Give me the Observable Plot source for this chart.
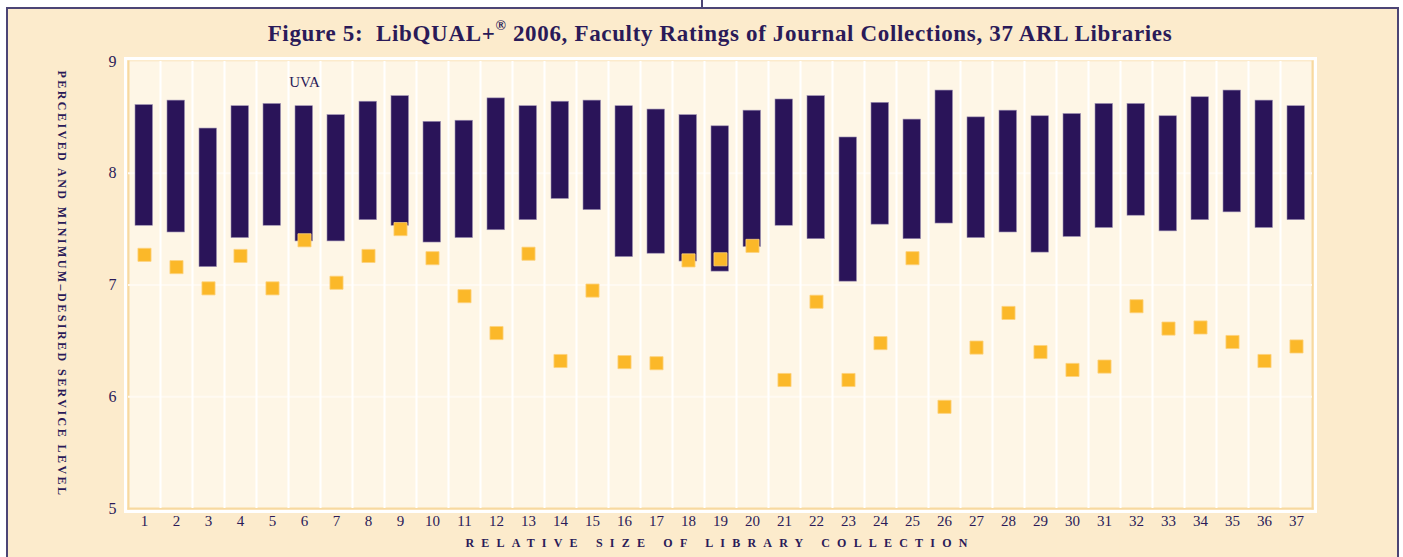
<!DOCTYPE html>
<html>
<head>
<meta charset="utf-8">
<script src="https://cdn.jsdelivr.net/npm/d3@7"></script>
<script src="https://cdn.jsdelivr.net/npm/@observablehq/plot@0.6"></script>
<style>
  html, body { margin: 0; padding: 0; background: #ffffff; width: 1403px; height: 557px; overflow: hidden; }
  #frame { position: absolute; left: 6px; top: 7px; width: 1389px; height: 560px; border: 2px solid #4c4575; background: #fcebcc; }
  #notch { position: absolute; left: 701px; top: 0px; width: 2px; height: 8px; background: #4c4575; }
  #title { position: absolute; left: 0; top: 20px; width: 1440px; text-align: center; font-family: "Liberation Serif", serif; font-weight: bold; font-size: 23px; letter-spacing: 0.66px; color: #2a1a58; white-space: nowrap; }
  #title sup { font-size: 14px; position: relative; top: -2px; }
  #chart { position: absolute; left: 0; top: 0; }
  #ylabel { position: absolute; left: 61px; top: 284px; transform: translate(-50%, -50%) rotate(90deg); font-family: "Liberation Serif", serif; font-weight: bold; font-size: 12px; letter-spacing: 2.45px; color: #2a1a58; white-space: nowrap; }
  #xlabel { position: absolute; left: 720px; top: 543px; transform: translate(-50%, -50%); font-family: "Liberation Serif", serif; font-weight: bold; font-size: 12px; letter-spacing: 7.2px; word-spacing: 1px; color: #2a1a58; white-space: nowrap; }
</style>
</head>
<body>
<div id="frame"></div>
<div id="notch"></div>
<div id="chart"></div>
<div id="title">Figure 5:&nbsp; LibQUAL+<sup>®</sup> 2006, Faculty Ratings of Journal Collections, 37 ARL Libraries</div>
<div id="ylabel">PERCEIVED AND MINIMUM–DESIRED SERVICE LEVEL</div>
<div id="xlabel">RELATIVE SIZE OF LIBRARY COLLECTION</div>
<script>
const libraries = d3.range(1, 38);
const minimum = [7.53, 7.47, 7.16, 7.42, 7.53, 7.39, 7.39, 7.58, 7.53, 7.38, 7.42, 7.49, 7.58, 7.77, 7.67, 7.25, 7.28, 7.21, 7.12, 7.34, 7.53, 7.41, 7.03, 7.54, 7.41, 7.55, 7.42, 7.47, 7.29, 7.43, 7.51, 7.62, 7.48, 7.58, 7.65, 7.51, 7.58];
const desired = [8.61, 8.65, 8.40, 8.60, 8.62, 8.60, 8.52, 8.64, 8.69, 8.46, 8.47, 8.67, 8.60, 8.64, 8.65, 8.60, 8.57, 8.52, 8.42, 8.56, 8.66, 8.69, 8.32, 8.63, 8.48, 8.74, 8.50, 8.56, 8.51, 8.53, 8.62, 8.62, 8.51, 8.68, 8.74, 8.65, 8.60];
const perceived = [7.27, 7.16, 6.97, 7.26, 6.97, 7.40, 7.02, 7.26, 7.50, 7.24, 6.90, 6.57, 7.28, 6.32, 6.95, 6.31, 6.30, 7.22, 7.23, 7.35, 6.15, 6.85, 6.15, 6.48, 7.24, 5.91, 6.44, 6.75, 6.40, 6.24, 6.27, 6.81, 6.61, 6.62, 6.49, 6.32, 6.45];
const yTicks = [5, 6, 7, 8, 9];
const highlight = [{lib: 6, y: 8.815, label: "UVA"}];

const data = libraries.map((lib, i) => ({lib, min: minimum[i], des: desired[i], per: perceived[i]}));
const ink = "#2a1a58";

const chart = Plot.plot({
  width: 1403,
  height: 557,
  marginLeft: 128,
  marginRight: 91,
  marginTop: 61,
  marginBottom: 49,
  style: {background: "transparent", fontFamily: "Liberation Serif, serif", color: ink},
  x: {type: "band", domain: libraries, padding: 0, label: null},
  y: {domain: [5, 9], label: null},
  marks: [
    Plot.frame({stroke: "#ffffff", strokeWidth: 3, inset: -3}),
    Plot.frame({fill: "#fef6e6"}),
    Plot.frame({anchor: "left", stroke: "#f7d9a0", strokeWidth: 2}),
    Plot.frame({anchor: "right", stroke: "#f7d9a0", strokeWidth: 2}),
    Plot.frame({anchor: "bottom", stroke: "#f7d9a0", strokeWidth: 2}),
    Plot.ruleY([6, 7, 8], {stroke: "#fffaf2", strokeWidth: 2}),
    Plot.ruleX(data.filter(d => d.lib < 37), {x: "lib", dx: 16, stroke: "#ffffff", strokeWidth: 2}),
    Plot.barY(data, {x: "lib", y1: "min", y2: "des", fill: "#2a1459", insetLeft: 7, insetRight: 7.5, stroke: "#9c8fb3", strokeWidth: 0.6}),
    Plot.dot(data, {x: "lib", y: "per", symbol: "square", r: 7.4, fill: "#fbb829", stroke: "#fcd27c", strokeWidth: 0.8}),
    Plot.text(highlight, {x: "lib", y: "y", text: "label", fontSize: 15, fill: ink}),
    Plot.axisY({ticks: yTicks, tickSize: 0, tickPadding: 12, fontSize: 16, tickFormat: d => d, label: null}),
    Plot.axisX({tickSize: 0, tickPadding: 7, fontSize: 15, label: null})
  ]
});
document.getElementById("chart").appendChild(chart);
</script>
</body>
</html>
